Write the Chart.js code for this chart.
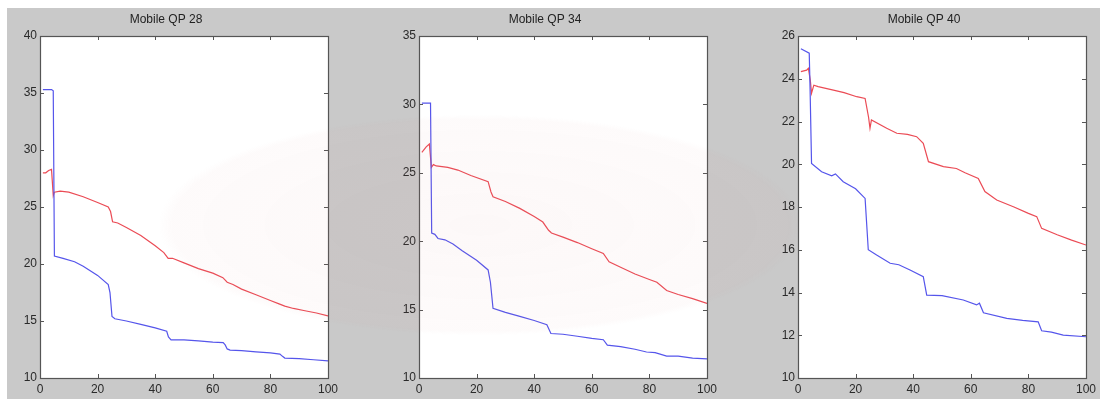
<!DOCTYPE html>
<html>
<head>
<meta charset="utf-8">
<script src="https://cdn.jsdelivr.net/npm/chart.js@4/dist/chart.umd.min.js"></script>
<style>
  body { margin: 0; width: 1100px; height: 399px; background: #fff; overflow: hidden; position: relative; }
  #bg { position: absolute; left: 7px; top: 8px; right: 0; bottom: 0; background: #c9c9c9; }
  .panel { position: absolute; top: 0; height: 399px; }
  #tint { position: absolute; left: 160px; top: 115px; width: 640px; height: 220px; pointer-events: none;
          background: radial-gradient(ellipse at center, rgba(215,140,140,0.06), rgba(215,140,140,0.04) 68%, rgba(215,140,140,0) 71%); }
</style>
</head>
<body>
<div id="bg"></div>
<div class="panel" id="p0"><canvas id="c0"></canvas></div>
<div class="panel" id="p1"><canvas id="c1"></canvas></div>
<div class="panel" id="p2"><canvas id="c2"></canvas></div>
<div id="tint"></div>
<script>
// ---- data ----
const titles = ['Mobile QP 28', 'Mobile QP 34', 'Mobile QP 40'];
const xTicks = [0, 20, 40, 60, 80, 100];

// QP 28
const qp28BlueX = [1, 4, 4.6, 5, 8, 12, 15, 20, 23.7, 24.3, 25, 26, 30, 35, 40, 44, 44.6, 45.5, 50, 55, 60, 63.6, 64.3, 65, 66, 70, 75, 80, 83.3, 84.2, 85, 90, 95, 100];
const qp28BlueY = [35.3, 35.3, 35.2, 20.7, 20.5, 20.2, 19.8, 19.0, 18.2, 17.5, 15.4, 15.2, 15.0, 14.7, 14.4, 14.1, 13.6, 13.35, 13.35, 13.25, 13.15, 13.1, 12.9, 12.55, 12.45, 12.4, 12.3, 12.2, 12.1, 11.9, 11.75, 11.7, 11.6, 11.5];
const qp28RedX = [1, 2, 3, 4, 4.6, 5, 7, 10, 15, 20, 23.7, 24.5, 25.2, 27, 30, 35, 40, 43, 44.5, 46, 50, 55, 60, 63.5, 65, 67, 70, 75, 80, 83, 85, 88, 92, 96, 100];
const qp28RedY = [28.0, 28.0, 28.2, 28.3, 26.0, 26.3, 26.4, 26.3, 25.9, 25.4, 25.0, 24.6, 23.7, 23.6, 23.2, 22.5, 21.6, 21.0, 20.5, 20.5, 20.1, 19.6, 19.2, 18.8, 18.4, 18.2, 17.8, 17.3, 16.8, 16.5, 16.3, 16.1, 15.9, 15.7, 15.45];

// QP 34
const qp34BlueX = [1, 4, 4.4, 5.5, 6.6, 9, 11.8, 15, 20, 24, 24.8, 25.7, 30, 35, 40, 44.4, 45.8, 50, 55, 60, 64, 65.4, 70, 75, 79, 82, 86, 90, 95, 100];
const qp34BlueY = [30.1, 30.1, 20.6, 20.5, 20.2, 20.1, 19.8, 19.3, 18.6, 17.9, 17.0, 15.1, 14.8, 14.5, 14.2, 13.9, 13.25, 13.2, 13.05, 12.9, 12.8, 12.4, 12.3, 12.1, 11.9, 11.85, 11.6, 11.6, 11.45, 11.4];
const qp34RedX = [1, 2.5, 3.6, 4.3, 5, 6, 10, 13.5, 18, 24, 25, 25.7, 30, 35, 40, 43, 45, 46, 50, 55, 60, 64, 66, 70, 75, 80, 82.6, 86, 90, 95, 100];
const qp34RedY = [26.5, 26.9, 27.1, 25.4, 25.6, 25.5, 25.4, 25.2, 24.8, 24.35, 23.6, 23.25, 22.9, 22.4, 21.8, 21.4, 20.8, 20.6, 20.3, 19.9, 19.45, 19.1, 18.5, 18.1, 17.6, 17.2, 17.0, 16.4, 16.1, 15.8, 15.45];

// QP 40
const qp40BlueX = [1, 3.9, 4.2, 4.7, 8.2, 11.7, 13, 15.7, 20, 23.3, 24.4, 27.3, 32, 35, 38.9, 43.5, 44.7, 50, 57.4, 62, 63, 64.4, 72.5, 78, 83.4, 84.6, 88, 92.1, 100];
const qp40BlueY = [25.4, 25.2, 23.5, 20.04, 19.65, 19.46, 19.55, 19.18, 18.85, 18.4, 16.0, 15.75, 15.37, 15.3, 15.05, 14.74, 13.88, 13.85, 13.65, 13.42, 13.5, 13.05, 12.79, 12.7, 12.63, 12.21, 12.15, 12.01, 11.93];
const qp40RedX = [1, 3, 3.6, 4.3, 4.7, 5.5, 7, 12.3, 16, 20.4, 23.3, 24.5, 25, 25.5, 30.8, 34.3, 38, 41.2, 43.5, 45.3, 50.5, 55, 58, 62.6, 64.9, 69, 75, 80, 82.9, 84.6, 90, 95, 100];
const qp40RedY = [24.33, 24.4, 24.49, 23.9, 23.32, 23.7, 23.63, 23.47, 23.35, 23.16, 23.08, 22.2, 21.68, 22.07, 21.68, 21.45, 21.4, 21.29, 20.98, 20.12, 19.89, 19.8, 19.6, 19.34, 18.72, 18.33, 18.0, 17.7, 17.55, 17.0, 16.7, 16.45, 16.22];

const yRanges = [[10, 40, 5], [10, 35, 5], [10, 26, 2]];
const plotLeft = [40, 419, 798];
const plotRight = [328, 707, 1086];

const series = [
    [qp28BlueX, qp28BlueY, qp28RedX, qp28RedY],
    [qp34BlueX, qp34BlueY, qp34RedX, qp34RedY],
    [qp40BlueX, qp40BlueY, qp40RedX, qp40RedY]
];

const FONT = 'Arial, "Liberation Sans", sans-serif';
const Y_AXIS_W = 36;
const PAD_R = 14;

// white axes box + inward ticks, matlab style
const boxPlugin = {
    id: 'box',
    beforeDraw(chart) {
        const a = chart.chartArea, ctx = chart.ctx;
        ctx.save();
        ctx.fillStyle = '#fff';
        ctx.fillRect(a.left, a.top, a.right - a.left, a.bottom - a.top);
        ctx.restore();
    },
    afterDraw(chart) {
        const a = chart.chartArea, ctx = chart.ctx;
        const len = 4;
        ctx.save();
        ctx.strokeStyle = '#555';
        ctx.lineWidth = 1;
        ctx.beginPath();
        chart.scales.x.ticks.forEach(t => {
            const px = Math.round(chart.scales.x.getPixelForValue(t.value)) + 0.5;
            ctx.moveTo(px, a.bottom); ctx.lineTo(px, a.bottom - len);
            ctx.moveTo(px, a.top); ctx.lineTo(px, a.top + len);
        });
        chart.scales.y.ticks.forEach(t => {
            const py = Math.round(chart.scales.y.getPixelForValue(t.value)) + 0.5;
            ctx.moveTo(a.left, py); ctx.lineTo(a.left + len, py);
            ctx.moveTo(a.right, py); ctx.lineTo(a.right - len, py);
        });
        ctx.stroke();
        ctx.lineWidth = 1.2;
        ctx.strokeRect(Math.round(a.left) + 0.5, Math.round(a.top) + 0.5, Math.round(a.right - a.left), Math.round(a.bottom - a.top));
        ctx.restore();
    }
};

function makePoints(xs, ys) {
    return xs.map((x, i) => ({x: x, y: ys[i]}));
}

for (let i = 0; i < 3; i++) {
    const wrap = document.getElementById('p' + i);
    const w = plotRight[i] - plotLeft[i] + Y_AXIS_W + PAD_R;
    wrap.style.left = (plotLeft[i] - Y_AXIS_W) + 'px';
    wrap.style.width = w + 'px';

    const [bx, by, rx, ry] = series[i];
    const [ymin, ymax, ystep] = yRanges[i];

    new Chart(document.getElementById('c' + i), {
        type: 'line',
        data: {
            datasets: [
                { label: 'blue', data: makePoints(bx, by), borderColor: 'rgb(85,85,235)', borderWidth: 1.2, pointRadius: 0, tension: 0 },
                { label: 'red', data: makePoints(rx, ry), borderColor: 'rgb(235,75,85)', borderWidth: 1.2, pointRadius: 0, tension: 0 }
            ]
        },
        options: {
            responsive: true,
            maintainAspectRatio: false,
            animation: false,
            layout: { padding: { top: 0, right: PAD_R, bottom: 0, left: 0 } },
            plugins: {
                legend: { display: false },
                tooltip: { enabled: false },
                title: {
                    display: true,
                    text: titles[i],
                    color: '#222',
                    font: { family: FONT, size: 12, weight: 'normal' },
                    padding: { top: 12, bottom: 9.6 }
                }
            },
            scales: {
                x: {
                    type: 'linear',
                    min: 0, max: 100,
                    afterBuildTicks: s => { s.ticks = xTicks.map(v => ({value: v})); },
                    afterFit: s => { s.height = 399 - 378; },
                    grid: { display: false, drawTicks: false },
                    border: { display: false },
                    ticks: { color: '#2a2a2a', font: { family: FONT, size: 12 }, padding: 4, maxRotation: 0 }
                },
                y: {
                    min: ymin, max: ymax,
                    ticks: { stepSize: ystep, color: '#2a2a2a', font: { family: FONT, size: 12 }, padding: 3 },
                    afterFit: s => { s.width = Y_AXIS_W; },
                    grid: { display: false, drawTicks: false },
                    border: { display: false }
                }
            }
        },
        plugins: [boxPlugin]
    });
}
</script>
</body>
</html>
